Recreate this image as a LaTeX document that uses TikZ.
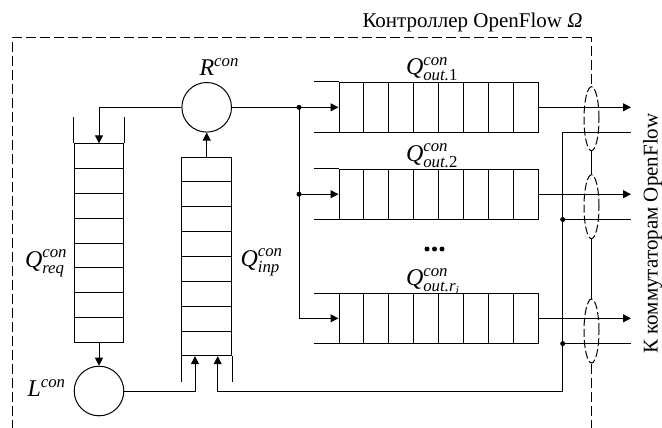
\documentclass[tikz,border=0pt]{standalone}
\usepackage{fontspec}
\usepackage{amsmath}
\setmainfont{Liberation Serif}
\usetikzlibrary{arrows.meta,shapes.geometric,calc}
\begin{document}
\begin{tikzpicture}[x=1pt,y=-1pt,line width=1pt,
  arr/.style={-{Triangle[length=8pt,width=8pt]}},
  proc/.style={circle,draw,minimum size=49.6pt,inner sep=0pt},
  vq/.style={draw,rectangle,minimum width=49.7pt,minimum height=198.3pt,inner sep=0pt},
  hq/.style={draw,rectangle,minimum width=199pt,minimum height=49.6pt,inner sep=0pt},
  lbl/.style={inner sep=0pt,anchor=base west,font=\fontsize{24}{28}\selectfont},
  txt/.style={inner sep=0pt,font=\fontsize{21}{25}\selectfont},
  bnd/.style={dash pattern=on 10pt off 4pt},
  lens/.style={ellipse,draw,dash pattern=on 8pt off 3pt,minimum width=15pt,minimum height=64pt,inner sep=0pt},
  dot/.style={circle,fill,inner sep=0pt,minimum size=5pt},
  bigdot/.style={circle,fill,inner sep=0pt,minimum size=5pt},
]
\useasboundingbox (0,0) rectangle (662,428);

% processors and queues
\node[proc] (R) at (206.7,107.3) {};
\node[proc] (L) at (99,391) {};
\node[vq] (qreq) at (99,243) {};
\node[vq] (qinp) at (206.7,256.5) {};
\node[hq] (q1) at (438.5,107.3) {};
\node[hq] (q2) at (438.5,194.2) {};
\node[hq] (q3) at (438.5,318.3) {};

% cells
\foreach \q in {qreq,qinp}
  \foreach \i in {1,...,7}
    \draw ($(\q.north west)!\i/8!(\q.south west)$) -- ($(\q.north east)!\i/8!(\q.south east)$);
\foreach \q in {q1,q2,q3}
  \foreach \i in {1,...,7}
    \draw ($(\q.north west)!\i/8!(\q.north east)$) -- ($(\q.south west)!\i/8!(\q.south east)$);

% open ends
\draw (qreq.north west) -- ++(0,-26);
\draw (qreq.north east) -- ++(0,-26);
\draw (qinp.south west) -- ++(0,26);
\draw (qinp.south east) -- ++(0,26);
\foreach \q in {q1,q2,q3}{
  \draw (\q.north west) -- ++(-25,0);
  \draw (\q.south west) -- ++(-25,0);
}

% helper coordinates
\coordinate (j1) at (299,107.3);
\coordinate (j2) at (j1 |- q2.west);
\coordinate (xo) at (631,0);
\coordinate (rx) at (562.7,0);
\coordinate (in1) at (195,0);
\coordinate (in2) at (217.7,0);

% connectors
\draw[arr] (R.west) -| (qreq.north);
\draw[arr] (qreq.south) -- (L.north);
\draw[arr] (qinp.north) -- (R.south);
\draw[arr] (R.east) -- (q1.west);
\draw[arr] (j1) |- (q3.west);
\draw[arr] (j2) -- (q2.west);
\node[dot] (d1) at (j1) {};
\node[dot] (d2) at (j2) {};

\draw[arr] (q1.east) -- (q1.east -| xo);
\draw[arr] (q2.east) -- (q2.east -| xo);
\draw[arr] (q3.east) -- (q3.east -| xo);

\draw[arr] (q1.south -| xo) -- (q1.south -| rx) |- (L.east -| in2) -- (in2 |- qinp.south);
\draw[arr] (L.east) -| (in1 |- qinp.south);
\draw (q2.south -| xo) -- (q2.south -| rx);
\draw (q3.south -| xo) -- (q3.south -| rx);
\node[dot] (d3) at (q2.south -| rx) {};
\node[dot] (d4) at (q3.south -| rx) {};

% lenses and boundary
\node[lens] (e1) at (591.5,118.7) {};
\node[lens] (e2) at (591.5,206.7) {};
\node[lens] (e3) at (591.5,331) {};
\draw (e1.south) -- (e2.north);
\draw (e2.south) -- (e3.north);
\draw[bnd] (12,430) -- (12,38) -- (591.5,38) -- (e1.north);
\draw[bnd] (e3.south) -- (591.5,430);

% labels
\node[lbl] (lR) at (199,76) {$\textit{R}^{\textit{con}}$};
\node[lbl] (lL) at (27,396.5) {$\textit{L}^{\textit{con}}$};
\node[lbl] (lreq) at (24.5,267) {$\textit{Q}^{\textit{con}}_{\textit{req}}$};
\node[lbl] (linp) at (240,266) {$\textit{Q}^{\textit{con}}_{\textit{inp}}$};
\node[lbl] (l1) at (405.5,74.5) {$\textit{Q}^{\textit{con}}_{\textit{out.}\textup{1}}$};
\node[lbl] (l2) at (405.5,161) {$\textit{Q}^{\textit{con}}_{\textit{out.}\textup{2}}$};
\node[lbl] (l3) at (405.5,285.3) {$\textit{Q}^{\textit{con}}_{\textit{out.r}_{\textit{i}}}$};
\node[bigdot] (el1) at (427,249) {};
\node[bigdot] (el2) at (434.5,249) {};
\node[bigdot] (el3) at (442,249) {};

\node[txt,anchor=base] (title) at (472.5,28) {Контроллер OpenFlow \textit{Ω}};
\node[txt,rotate=90] (sw) at (652.5,233.5) {К коммутаторам OpenFlow};
\end{tikzpicture}
\end{document}
